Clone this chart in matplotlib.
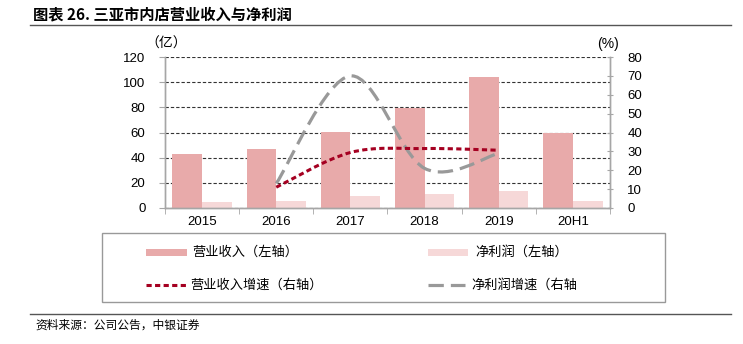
import matplotlib
matplotlib.use("Agg")
import matplotlib.pyplot as plt
from matplotlib.path import Path
from matplotlib.patches import PathPatch, Rectangle
from matplotlib.lines import Line2D
import numpy as np

plt.rcParams['font.family'] = ['Liberation Sans', 'Noto Sans CJK SC', 'DejaVu Sans']
CJK = ['Noto Sans CJK SC', 'DejaVu Sans']

categories = ['2015', '2016', '2017', '2018', '2019', '20H1']
revenue = [42.7, 46.9, 60.6, 79.7, 104.4, 59.6]
net_profit = [4.5, 5.6, 9.5, 11.4, 13.7, 5.8]
growth_years = ['2016', '2017', '2018', '2019']
revenue_growth = [11.0, 29.4, 31.5, 30.6]
profit_growth = [13.0, 70.0, 21.0, 29.0]

C_REV = '#E8AAAA'
C_NP = '#F6D8D8'
C_RG = '#A50021'
C_PG = '#999999'
C_AX = '#A6A6A6'

W, H = 743, 344
fig = plt.figure(figsize=(W / 100, H / 100), dpi=100)

def fx(px):
    return px / W

def fy(py):
    return 1 - py / H

ax = fig.add_axes([fx(165), fy(208), fx(610) - fx(165), fy(57) - fy(208)])
ax2 = ax.twinx()

x = np.arange(len(categories))
bw = 0.4
ax.bar(x - bw / 2, revenue, width=bw, color=C_REV, zorder=2)
ax.bar(x + bw / 2, net_profit, width=bw, color=C_NP, zorder=2)
ax.set_xlim(-0.5, len(categories) - 0.5)
ax.set_ylim(0, 120)
ax.set_yticks(np.arange(0, 121, 20))
ax.yaxis.grid(True, color='#333333', linestyle=(0, (3, 1.8)), linewidth=0.8, zorder=1)
ax.set_axisbelow(True)
ax.set_xticks(x)
ax.set_xticklabels(categories, fontsize=9.5)
ax.set_xticks(np.arange(-0.5, len(categories) + 0.5, 1), minor=True)
ax.tick_params(axis='x', which='major', length=0, pad=6)
ax.tick_params(axis='x', which='minor', length=4, color=C_AX, direction='out')
ax.tick_params(axis='y', length=4, color=C_AX, direction='out', pad=10, labelsize=9.5)

ax2.set_ylim(0, 80)
ax2.set_yticks(np.arange(0, 81, 10))
ax2.tick_params(axis='y', length=5, color=C_AX, direction='inout', pad=10, labelsize=9.5)

for a in (ax, ax2):
    a.spines['top'].set_visible(False)
    for s in ('left', 'right', 'bottom'):
        a.spines[s].set_color(C_AX)
        a.spines[s].set_linewidth(1.0)

# smooth curves (Catmull-Rom as cubic Bezier) from data points
def smooth_path(xs, ys):
    xs = np.asarray(xs, float)
    ys = np.asarray(ys, float)
    n = len(xs)
    pts = np.column_stack([xs, ys])
    verts = [pts[0]]
    codes = [Path.MOVETO]
    for i in range(n - 1):
        p0 = pts[i - 1] if i > 0 else pts[i]
        p1 = pts[i]
        p2 = pts[i + 1]
        p3 = pts[i + 2] if i + 2 < n else pts[i + 1]
        c1 = p1 + (p2 - p0) / 6.0
        c2 = p2 - (p3 - p1) / 6.0
        verts += [c1, c2, p2]
        codes += [Path.CURVE4] * 3
    return Path(verts, codes)

gx = [categories.index(g) for g in growth_years]
ax2.add_patch(PathPatch(smooth_path(gx, profit_growth), fill=False, edgecolor=C_PG,
                        linewidth=2.3, linestyle=(0, (4.8, 2.2)), capstyle='butt', zorder=3))
ax2.add_patch(PathPatch(smooth_path(gx, revenue_growth), fill=False, edgecolor=C_RG,
                        linewidth=2.2, linestyle=(0, (1.7, 1.1)), capstyle='butt', zorder=4))

# unit labels
fig.text(fx(166), fy(44), '（亿）', family=CJK, fontsize=10, ha='center', va='center')
fig.text(fx(608), fy(44), '(%)', fontsize=10, ha='center', va='center')

# title and rules
fig.text(fx(33), fy(14), '图表 26. 三亚市内店营业收入与净利润', family=CJK, fontsize=11,
         fontweight='bold', ha='left', va='center')
fig.add_artist(Line2D([fx(30), fx(731)], [fy(25), fy(25)], color='#555555', lw=1.0))
fig.add_artist(Line2D([fx(30), fx(731)], [fy(314), fy(314)], color='#555555', lw=1.0))
fig.text(fx(35), fy(325), '资料来源：公司公告，中银证券', family=CJK, fontsize=8.5,
         ha='left', va='center')

# legend box
fig.add_artist(Rectangle((fx(102), fy(302)), fx(665) - fx(102), fy(233) - fy(302),
                         fill=False, edgecolor='#999999', lw=1.0))
r1, r2 = 252, 285
fig.add_artist(Rectangle((fx(146), fy(r1 + 3.5)), fx(187) - fx(146), fy(r1 - 3.5) - fy(r1 + 3.5),
                         facecolor=C_REV, edgecolor='none'))
fig.text(fx(192), fy(r1), '营业收入（左轴）', family=CJK, fontsize=9.5, ha='left', va='center')
fig.add_artist(Rectangle((fx(428), fy(r1 + 3.5)), fx(468) - fx(428), fy(r1 - 3.5) - fy(r1 + 3.5),
                         facecolor=C_NP, edgecolor='none'))
fig.text(fx(475), fy(r1), '净利润（左轴）', family=CJK, fontsize=9.5, ha='left', va='center')
fig.add_artist(Line2D([fx(146), fx(187)], [fy(r2), fy(r2)], color=C_RG, lw=2.2,
                      linestyle=(0, (1.7, 1.1)), solid_capstyle='butt', dash_capstyle='butt'))
fig.text(fx(190), fy(r2), '营业收入增速（右轴）', family=CJK, fontsize=9.5, ha='left', va='center')
fig.add_artist(Line2D([fx(428), fx(465)], [fy(r2), fy(r2)], color=C_PG, lw=2.3,
                      linestyle=(0, (4.8, 2.2)), dash_capstyle='butt'))
fig.text(fx(471), fy(r2), '净利润增速（右轴', family=CJK, fontsize=9.5, ha='left', va='center')

fig.savefig('out.png', dpi=100)
